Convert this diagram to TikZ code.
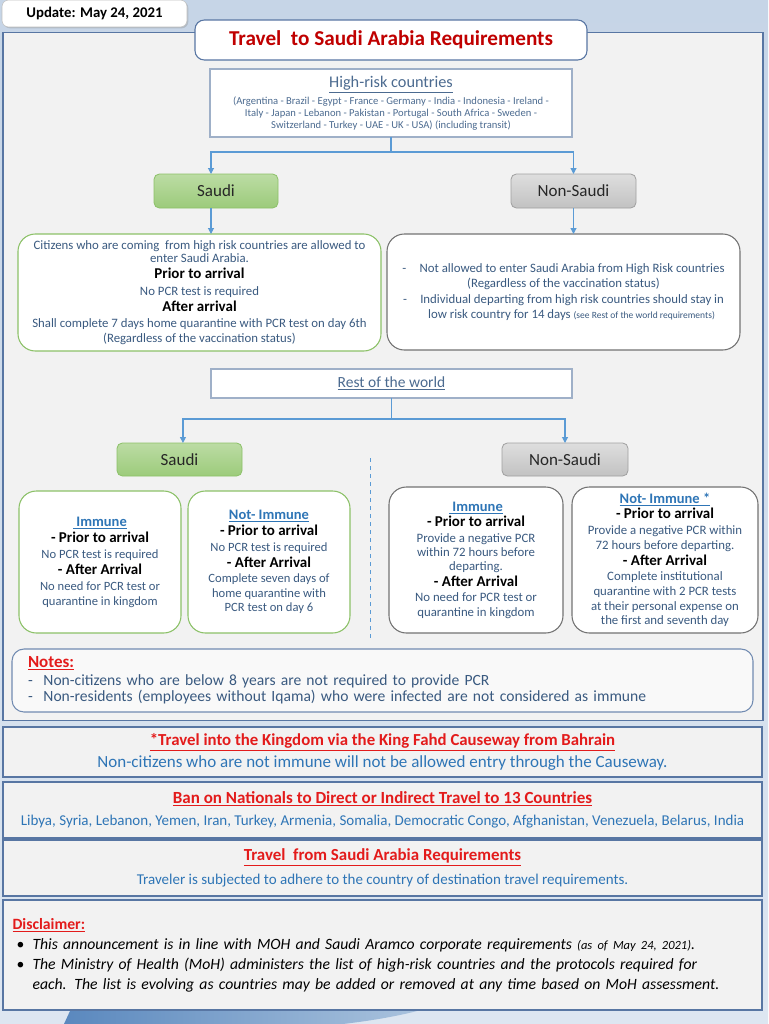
\documentclass[tikz,border=0pt]{standalone}
\usepackage{fontspec}
\setmainfont{Carlito}
\usetikzlibrary{arrows.meta,shadows}
\definecolor{bgtop}{HTML}{C6D5E7}
\definecolor{bgbot}{HTML}{DDE6F1}
\definecolor{panelf}{HTML}{F2F2F2}
\definecolor{panelb}{HTML}{5876A3}
\definecolor{txt}{HTML}{3A5A80}
\definecolor{steel}{HTML}{4C6B90}
\definecolor{hrb}{HTML}{9FB0C8}
\definecolor{arr}{HTML}{5B9BD5}
\definecolor{grnb}{HTML}{8CC168}
\definecolor{grnf}{HTML}{BCDCA4}
\definecolor{grnf2}{HTML}{9CCB7B}
\definecolor{gryf}{HTML}{DEDEDE}
\definecolor{gryf2}{HTML}{C2C2C2}
\definecolor{gryb}{HTML}{A0A0A0}
\definecolor{ttlred}{HTML}{C00000}
\definecolor{red2}{HTML}{E31B1B}
\definecolor{blu2}{HTML}{2E75B6}
\definecolor{wing1}{HTML}{5A88BE}
\definecolor{wing2}{HTML}{A9C2DD}
\newcommand\fz[2]{\fontsize{\fpeval{0.75*#1}pt}{\fpeval{0.75*#2}pt}\selectfont}
\newcommand\hk[1]{{\color{black}\bfseries\fz{15}{16}#1}}
\newcommand\ib[1]{{\color{blu2}\bfseries\fz{14.5}{16}\underline{#1}}}
\begin{document}
\begin{tikzpicture}[x=0.75pt,y=-0.75pt,
  sz/.style 2 args={minimum width=#1*0.75pt, minimum height=#2*0.75pt, inner sep=0pt, outer sep=0pt},
  panel/.style={draw=panelb, fill=panelf, line width=0.9pt},
  conn/.style={draw=arr, line width=0.8pt, -{Triangle[length=4.5pt,width=4.5pt]}},
  connl/.style={draw=arr, line width=0.8pt},
  lab/.style={rounded corners=4pt, line width=0.6pt, font=\fz{17}{18}, text=black!85},
  sbox/.style={lab, draw=grnb, top color=grnf, bottom color=grnf2},
  nbox/.style={lab, draw=gryb, top color=gryf, bottom color=gryf2},
  cardg/.style={draw=grnb, fill=white, rounded corners=13pt, line width=0.8pt, align=center, text=txt},
  cardn/.style={draw=black!55, fill=white, rounded corners=13pt, line width=0.8pt, align=center, text=txt},
  hrstyle/.style={draw=hrb, line width=1.3pt, fill=white, align=center, text=steel},
]
\useasboundingbox (0,0) rectangle (768,1024);
\shade[top color=bgtop, bottom color=bgbot] (0,0) rectangle (768,1024);
\shade[left color=wing1, right color=wing2] (64,1024) -- (70,1011) -- (417,1011) .. controls (390,1018) and (360,1022) .. (343,1024) -- cycle;

% main panel
\node[panel, sz={760}{688}] (main) at (383,376.5) {};

% update box
\node[draw=black!25, fill=white, rounded corners=5pt, sz={185}{27},
      drop shadow={shadow xshift=1pt, shadow yshift=-1pt, opacity=0.3},
      font=\bfseries\fz{14.8}{16}] (upd) at (94.5,13.5) {Update: May 24, 2021};

% title
\node[draw=panelb, fill=white, rounded corners=7pt, line width=0.8pt, sz={392}{40},
      font=\bfseries\fz{21.2}{22}, text=ttlred] (title) at (391,40) {Travel\ \ to Saudi Arabia Requirements};

% high-risk
\node[hrstyle, sz={362}{68}, font=\fz{10.6}{12}] (hr) at (391,103)
 {{\fz{16.3}{17}\underline{High-risk countries}}\\[1.5pt]
  (Argentina - Brazil - Egypt - France - Germany - India - Indonesia - Ireland -\\
  Italy - Japan - Lebanon - Pakistan - Portugal - South Africa - Sweden -\\
  Switzerland - Turkey - UAE - UK - USA) (including transit)};

\node[sbox, sz={124}{34}] (s1) at (216,191) {Saudi};
\node[nbox, sz={125}{34}] (n1) at (573.5,191) {Non-Saudi};

\node[cardg, sz={363}{117}, font=\fz{12.8}{16.3}] (sdesc) at (199.5,292.5)
 {Citizens who are coming\ \ from high risk countries are allowed to\\[-2.5pt]
  enter Saudi Arabia.\\
  \hk{Prior to arrival}\\
  No PCR test is required\\
  \hk{After arrival}\\
  Shall complete 7 days home quarantine with PCR test on day 6th\\[-1.5pt]
  (Regardless of the vaccination status)};

\node[cardn, sz={353}{116}, font=\fz{12.8}{15.2}] (ndesc) at (563.5,292)
 {-\hspace{10pt}Not allowed to enter Saudi Arabia from High Risk countries\\
  (Regardless of the vaccination status)\\
  -\hspace{10pt}Individual departing from high risk countries should stay in\\
  \hspace{12pt}low risk country for 14 days {\fz{9.5}{10}(see Rest of the world requirements)}};

\draw[connl] (hr.south) -- ++(0,15) coordinate (j1);
\draw[conn] (j1) -| ([xshift=-3.75pt]s1.north);
\draw[conn] (j1) -| (n1.north);
\draw[conn] ([xshift=-3.75pt]s1.south) -- ([xshift=-3.75pt]s1.south |- sdesc.north);
\draw[conn] (n1.south) -- (n1.south |- ndesc.north);

% rest of the world
\node[hrstyle, sz={361}{29}, font=\fz{15.5}{16}] (rw) at (391.5,383.5) {\underline{Rest of the world}};
\node[sbox, sz={125}{33}] (s2) at (179.5,459.5) {Saudi};
\node[nbox, sz={126}{33}] (n2) at (565,459.5) {Non-Saudi};
\draw[connl] (rw.south) -- ++(0,21) coordinate (j2);
\draw[conn] (j2) -| ([xshift=2.6pt]s2.north);
\draw[conn] (j2) -| (n2.north);

\draw[arr, dashed, line width=0.7pt] (370,458) -- (370,640);

\node[cardg, sz={162}{142}, font=\fz{12.6}{16.2}] (si) at (100,562)
 {\ib{\ Immune}\\ \hk{- Prior to arrival}\\ No PCR test is required\\ \hk{- After Arrival}\\
  No need for PCR test or\\[-1.5pt] quarantine in kingdom};
\node[cardg, sz={162}{142}, font=\fz{12.6}{15.8}] (sn) at (269,562)
 {\ib{Not- Immune}\\ \hk{- Prior to arrival}\\ No PCR test is required\\ \hk{- After Arrival}\\
  Complete seven days of\\[-1pt] home quarantine with\\[-1pt] PCR test on day 6};
\node[cardn, sz={174}{146}, font=\fz{12.8}{15.6}] (ni) at (476,560)
 {\ib{\ Immune}\\ \hk{- Prior to arrival}\\ Provide a negative PCR\\[-1pt] within 72 hours before\\[-1pt] departing.\\
  \hk{- After Arrival}\\ No need for PCR test or\\[-1pt] quarantine in kingdom};
\node[cardn, sz={186}{146}, font=\fz{12.8}{15.4}] (nn) at (665,560)
 {\ib{Not- Immune *}\\ \hk{- Prior to arrival}\\ Provide a negative PCR within\\ 72 hours before departing.\\
  \hk{- After Arrival}\\ Complete institutional\\[-0.5pt] quarantine with 2 PCR tests\\[-0.5pt] at their personal expense on\\[-0.5pt] the first and seventh day};

% notes
\node[draw=panelb!85, fill=white!55!panelf, rounded corners=9pt, line width=0.8pt, sz={741}{63},
      text width=709*0.75pt, align=left, font=\fz{15.6}{16.5}, text=txt] (notes) at (382.5,680.5)
 {{\color{red2}\bfseries\fz{17}{17}\underline{Notes:}}\\[1pt]
  -\hspace{8pt}Non-citizens who are below 8 years are not required to provide PCR\\
  -\hspace{8pt}Non-residents (employees without Iqama) who were infected are not considered as immune};

% causeway
\node[panel, sz={759}{50}, align=center, font=\fz{15}{21.5}] (cw) at (382.5,752)
 {{\color{red2}\bfseries\fz{16.8}{17}\underline{*Travel into the Kingdom via the King Fahd Causeway from Bahrain}}\\
  {\color{blu2}\fz{17}{18}Non-citizens who are not immune will not be allowed entry through the Causeway.}};

% ban
\node[panel, sz={759}{56}, align=center, font=\fz{15}{22.5}] (ban) at (382.5,810)
 {{\color{red2}\bfseries\fz{17}{17}\underline{Ban on Nationals to Direct or Indirect Travel to 13 Countries}}\\
  {\color{blu2}Libya, Syria, Lebanon, Yemen, Iran, Turkey, Armenia, Somalia, Democratic Congo, Afghanistan, Venezuela, Belarus, India}};

% travel from
\node[panel, sz={759}{56}, align=center, font=\fz{15}{23.5}] (tf) at (382.5,868)
 {{\color{red2}\bfseries\fz{16.9}{17}\underline{Travel\ \ from Saudi Arabia Requirements}}\\
  {\color{blu2}Traveler is subjected to adhere to the country of destination travel requirements.}};

% disclaimer
\node[panel, sz={759}{110}, text width=740*0.75pt, align=left, font=\itshape\fz{15.7}{20}] (disc) at (382.5,955)
 {{\upshape\bfseries\color{red2}\underline{Disclaimer:}}\\
  \makebox[15pt][l]{\upshape\hspace{3pt}\textbullet}This announcement is in line with MOH and Saudi Aramco corporate requirements {\fz{12.5}{14}(as of May 24, 2021)}.\\
  \makebox[15pt][l]{\upshape\hspace{3pt}\textbullet}The Ministry of Health (MoH) administers the list of high-risk countries and the protocols required for\\
  \hspace*{15pt}each. The list is evolving as countries may be added or removed at any time based on MoH assessment.};
\end{tikzpicture}
\end{document}
